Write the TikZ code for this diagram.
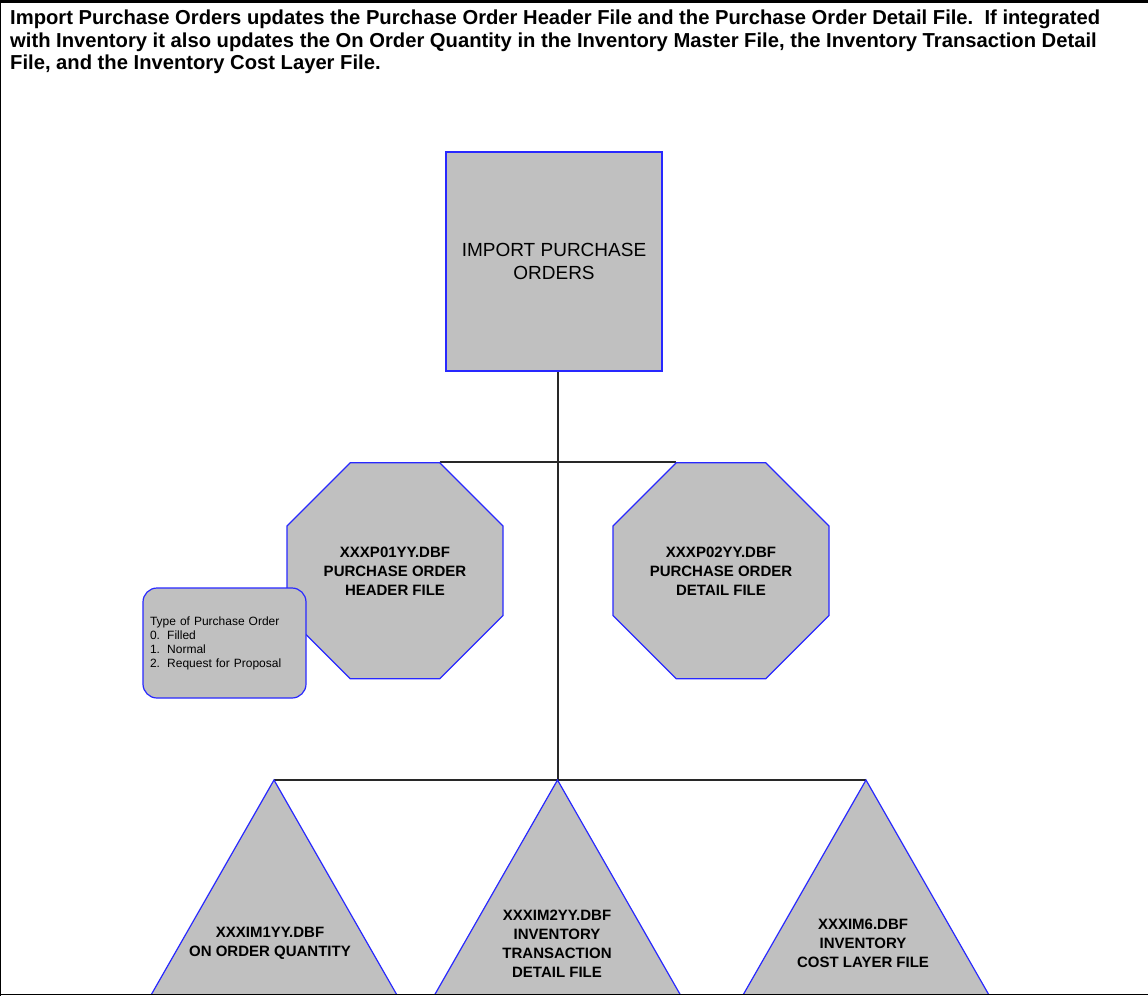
\documentclass[tikz,border=0pt]{standalone}
\usepackage{fontspec}
\setmainfont{Liberation Sans}
\usetikzlibrary{shapes.geometric,calc}
\pgfdeclarelayer{background}
\pgfsetlayers{background,main}
\definecolor{boxgray}{RGB}{192,192,192}
\definecolor{edgeblue}{RGB}{40,40,255}
\definecolor{linkgray}{RGB}{40,40,40}
\begin{document}
\begin{tikzpicture}[x=1pt,y=-1pt,
  shapefill/.style={fill=boxgray,draw=edgeblue,line width=1.2pt},
  procbox/.style={shapefill,rectangle,minimum width=216pt,minimum height=219pt,inner sep=0pt,font=\fontsize{19}{23}\selectfont,align=center},
  filebox/.style={shapefill,regular polygon,regular polygon sides=8,minimum size=233.8pt,inner sep=0pt,font=\bfseries\fontsize{15}{19}\selectfont,align=center},
  notebox/.style={shapefill,rectangle,rounded corners=14pt,minimum height=110pt,text width=149pt,inner xsep=7pt,inner ysep=0pt,align=left,font=\fontsize{12}{14}\selectfont},
  tritext/.style={font=\bfseries\fontsize{15}{19}\selectfont,align=center,inner sep=0pt},
  headtext/.style={font=\bfseries\fontsize{20.2}{22.5}\selectfont,align=left,inner sep=0pt,anchor=north west},
  link/.style={draw=linkgray,line width=2pt},
  frameline/.style={draw=black}]
\useasboundingbox (0,0) rectangle (1148,996);
\begin{pgfonlayer}{background}
\fill[white] (0,0) rectangle (1148,996);
\end{pgfonlayer}
% frame
\draw[frameline,line width=3pt] (0,1.5) -- (1148,1.5);
\draw[frameline,line width=1pt] (0.5,0) -- (0.5,996);
% header
\node[headtext] (head) at (10,10) {Import Purchase Orders updates the Purchase Order Header File and the Purchase Order Detail File.\ \ If integrated\\
with Inventory it also updates the On Order Quantity in the Inventory Master File, the Inventory Transaction Detail\\
File, and the Inventory Cost Layer File.};
% process
\node[procbox] (proc) at (554,261.5) {IMPORT PURCHASE\\ORDERS};
% octagons
\node[filebox] (oct1) at (395,570.8) {XXXP01YY.DBF\\PURCHASE ORDER\\HEADER FILE};
\node[filebox] (oct2) at (721,570.8) {XXXP02YY.DBF\\PURCHASE ORDER\\DETAIL FILE};
% note
\node[notebox] (note) at (224.5,643) {Type of Purchase Order\\0.\hspace{0.6em}Filled\\1.\hspace{0.6em}Normal\\2.\hspace{0.6em}Request for Proposal};
% triangles
\coordinate (tri1) at (274,780);
\coordinate (tri2) at (557.5,780);
\coordinate (tri3) at (866,780);
\coordinate (trunk) at (557.5,780);
\begin{scope}
\clip (0,0) rectangle (1148,994);
\foreach \t in {tri1,tri2,tri3}{
  \draw[shapefill] (\t) -- ++(-183,320) -- ++(366,0) -- cycle;
}
\end{scope}
\draw[frameline,line width=1.5pt] (0,994.5) -- (1148,994.5);
\node[tritext] (t1) at (270,943) {XXXIM1YY.DBF\\ON ORDER QUANTITY};
\node[tritext] (t2) at (557,943.5) {XXXIM2YY.DBF\\INVENTORY\\TRANSACTION\\DETAIL FILE};
\node[tritext] (t3) at (863,943) {XXXIM6.DBF\\INVENTORY\\COST LAYER FILE};
% connectors
\begin{pgfonlayer}{background}
\draw[link] ($(oct1.north)+(44.7,0)$) -- ($(oct2.north)+(-44.7,0)$);
\draw[link] (proc.south -| trunk) -- (trunk);
\draw[link] (tri1) -- (tri3);
\end{pgfonlayer}
\end{tikzpicture}
\end{document}
